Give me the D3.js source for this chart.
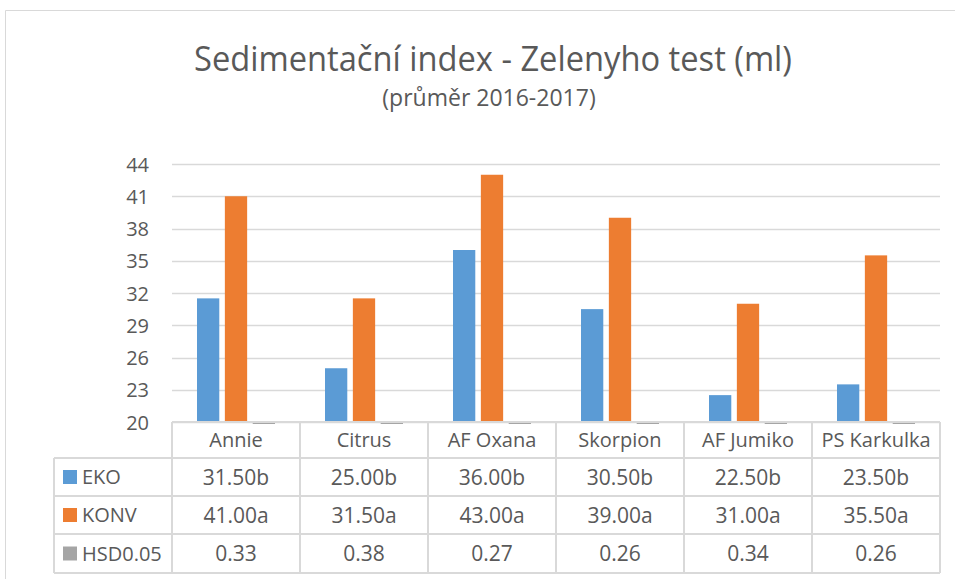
<!doctype html>
<html>
  <head>
    <meta charset="UTF-8">
    <title>Sedimentační index</title>
    <script src="https://d3js.org/d3.v7.min.js"></script>
    <style>
      body { margin: 0; background: #fff; }
      svg text { font-family: "Open Sans", "Noto Sans", sans-serif; fill: #595959; }
    </style>
  </head>
  <body>
    <svg id="chart" width="955" height="579"></svg>
    <script>
      // data
      const varieties = ["Annie", "Citrus", "AF Oxana", "Skorpion", "AF Jumiko", "PS Karkulka"];
      const series = ["EKO", "KONV", "HSD0.05"];
      const eko = [31.5, 25.0, 36.0, 30.5, 22.5, 23.5];
      const konv = [41.0, 31.5, 43.0, 39.0, 31.0, 35.5];
      const hsd = [0.33, 0.38, 0.27, 0.26, 0.34, 0.26];
      const ekoLetters = ["b", "b", "b", "b", "b", "b"];
      const konvLetters = ["a", "a", "a", "a", "a", "a"];
      const yTicks = [20, 23, 26, 29, 32, 35, 38, 41, 44];

      const colors = { "EKO": "#5b9bd5", "KONV": "#ed7d31", "HSD0.05": "#a5a5a5" };
      const gridColor = "#d9d9d9";

      const svg = d3.select("#chart");

      // chart frame
      svg.append("path")
        .attr("d", "M5.5,579 V10.5 H955")
        .attr("fill", "none")
        .attr("stroke", gridColor)
        .attr("stroke-width", 1);

      // titles (title squeezed a bit to the measured width)
      svg.append("text")
        .attr("x", 493).attr("y", 71)
        .attr("text-anchor", "middle")
        .attr("textLength", 598)
        .attr("lengthAdjust", "spacingAndGlyphs")
        .style("font-size", "34px")
        .text("Sedimentační index - Zelenyho test (ml)");
      svg.append("text")
        .attr("x", 489).attr("y", 106)
        .attr("text-anchor", "middle")
        .style("font-size", "23px")
        .text("(průměr 2016-2017)");

      const plotLeft = 172, plotRight = 940, plotTop = 164, plotBase = 422;

      const x = d3.scaleBand().domain(varieties).range([plotLeft, plotRight]);
      const xs = d3.scaleBand().domain(series).range([25, x.bandwidth() - 25]).paddingInner(0.2);
      const y = d3.scaleLinear().domain([20, 44]).range([plotBase, plotTop]);

      // gridlines
      svg.append("g").selectAll("line")
        .data(yTicks)
        .join("line")
        .attr("x1", plotLeft).attr("x2", plotRight)
        .attr("y1", d => Math.round(y(d)) + 0.5)
        .attr("y2", d => Math.round(y(d)) + 0.5)
        .attr("stroke", gridColor)
        .attr("stroke-width", 1.5);

      // y axis labels
      const yAxis = svg.append("g")
        .attr("transform", `translate(${plotLeft - 23},0)`)
        .call(d3.axisLeft(y).tickValues(yTicks).tickSize(0).tickPadding(0));
      yAxis.select(".domain").remove();
      yAxis.selectAll("text")
        .attr("dy", "0.36em")
        .style("font-size", "20px")
        .style("font-family", "\"Open Sans\", sans-serif")
        .attr("fill", "#595959");

      // bars
      const rows = varieties.map((v, i) => ({ v, vals: [eko[i], konv[i], hsd[i]] }));
      const groups = svg.append("g").selectAll("g")
        .data(rows)
        .join("g")
        .attr("transform", d => `translate(${x(d.v)},0)`);

      groups.selectAll("rect")
        .data(d => d.vals.map((val, j) => ({ s: series[j], val })))
        .join("rect")
        .attr("x", d => xs(d.s))
        .attr("width", xs.bandwidth())
        .attr("y", d => d.val > 20 ? y(d.val) : y(20) + 0.5)
        .attr("height", d => d.val > 20 ? y(20) - y(d.val) : 1.5)
        .attr("fill", d => colors[d.s]);

      // data table
      const rowTops = [422, 458, 496, 534, 573];
      const legendLeft = 54;
      const table = svg.append("g")
        .attr("fill", "none")
        .attr("stroke", gridColor)
        .attr("stroke-width", 2);

      // horizontal lines
      table.append("line").attr("x1", plotLeft).attr("x2", plotRight).attr("y1", rowTops[0]).attr("y2", rowTops[0]);
      rowTops.slice(1).forEach(ry => {
        table.append("line").attr("x1", legendLeft).attr("x2", plotRight).attr("y1", ry).attr("y2", ry);
      });
      // vertical lines
      table.append("line").attr("x1", legendLeft).attr("x2", legendLeft).attr("y1", rowTops[1]).attr("y2", rowTops[4]);
      varieties.forEach(v => {
        table.append("line").attr("x1", x(v)).attr("x2", x(v)).attr("y1", rowTops[0]).attr("y2", rowTops[4]);
      });
      table.append("line").attr("x1", plotRight).attr("x2", plotRight).attr("y1", rowTops[0]).attr("y2", rowTops[4]);

      // category labels
      svg.append("g").selectAll("text")
        .data(varieties)
        .join("text")
        .attr("x", d => x(d) + x.bandwidth() / 2)
        .attr("y", (rowTops[0] + rowTops[1]) / 2)
        .attr("dy", "0.36em")
        .attr("text-anchor", "middle")
        .style("font-size", "20px")
        .text(d => d);

      // table rows
      const tableRows = [
        { s: "EKO", cells: eko.map((v, i) => v.toFixed(2) + ekoLetters[i]) },
        { s: "KONV", cells: konv.map((v, i) => v.toFixed(2) + konvLetters[i]) },
        { s: "HSD0.05", cells: hsd.map(v => v.toFixed(2)) }
      ];

      tableRows.forEach((r, k) => {
        const cy = (rowTops[k + 1] + rowTops[k + 2]) / 2;
        svg.append("rect")
          .attr("x", 63).attr("y", cy - 7)
          .attr("width", 14).attr("height", 14)
          .attr("fill", colors[r.s]);
        svg.append("text")
          .attr("x", 82).attr("y", cy)
          .attr("dy", "0.36em")
          .style("font-size", "20px")
          .text(r.s);
        svg.append("g").selectAll("text")
          .data(r.cells)
          .join("text")
          .attr("x", (d, i) => x(varieties[i]) + x.bandwidth() / 2)
          .attr("y", cy)
          .attr("dy", "0.36em")
          .attr("text-anchor", "middle")
          .style("font-size", "21px")
          .text(d => d);
      });
    </script>
  </body>
</html>
